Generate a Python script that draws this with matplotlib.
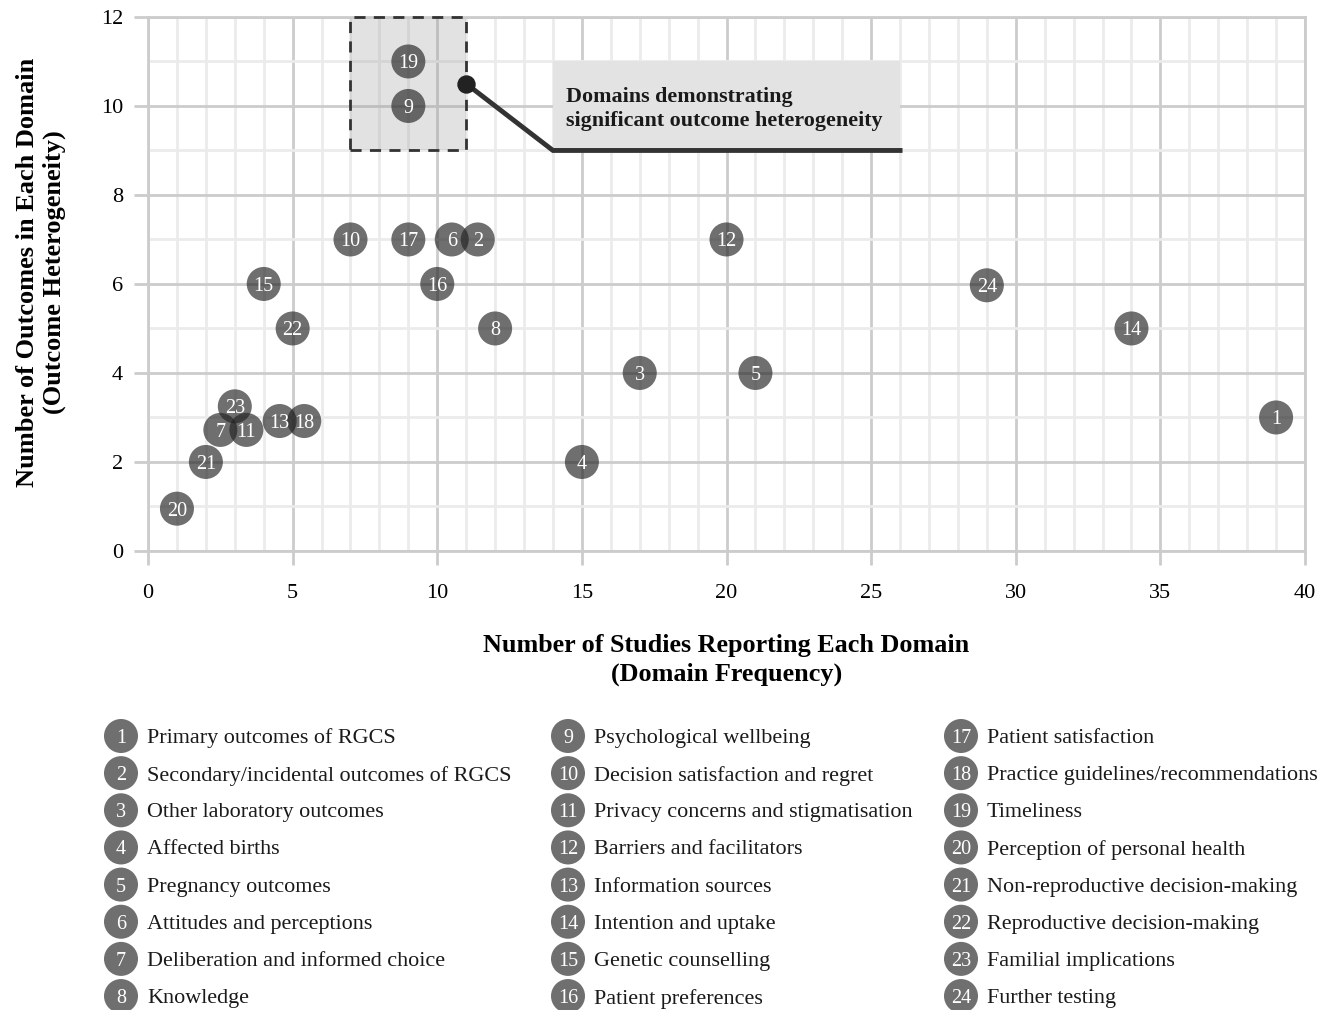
import matplotlib.pyplot as plt
from matplotlib.patches import Rectangle

plt.rcParams['font.family'] = ['Liberation Serif', 'DejaVu Serif']

# domain id, studies (x), outcomes (y) - small offsets where points overlap
ids = list(range(1, 25))
studies = [39, 11.4, 17, 15, 21, 10.5, 2.5, 12, 9, 7, 3.4, 20,
           4.55, 34, 4, 10, 9, 5.4, 9, 1, 2, 5, 3, 29]
outcomes = [3, 7, 4, 2, 4, 7, 2.72, 5, 10, 7, 2.72, 7,
            2.92, 5, 6, 6, 7, 2.92, 11, 0.95, 2, 5, 3.25, 5.97]
names = [
    "Primary outcomes of RGCS", "Secondary/incidental outcomes of RGCS",
    "Other laboratory outcomes", "Affected births", "Pregnancy outcomes",
    "Attitudes and perceptions", "Deliberation and informed choice", "Knowledge",
    "Psychological wellbeing", "Decision satisfaction and regret",
    "Privacy concerns and stigmatisation", "Barriers and facilitators",
    "Information sources", "Intention and uptake", "Genetic counselling",
    "Patient preferences", "Patient satisfaction",
    "Practice guidelines/recommendations", "Timeliness",
    "Perception of personal health", "Non-reproductive decision-making",
    "Reproductive decision-making", "Familial implications", "Further testing",
]

dot_color = '#222222'
dot_alpha = 0.65
dot_size = 600

fig = plt.figure(figsize=(13.36, 10.10), dpi=100)
ax = fig.add_axes([0.1108, 0.4545, 0.866, 0.5287])

ax.set_xlim(0, 40)
ax.set_ylim(0, 12)
ax.set_xticks(range(0, 41, 5))
ax.set_xticks(range(0, 41), minor=True)
ax.set_yticks(range(0, 13, 2))
ax.set_yticks(range(0, 13), minor=True)
ax.grid(which='major', color='#cccccc', lw=2)
ax.grid(which='minor', color='#ebebeb', lw=2)
ax.set_axisbelow(True)
for s in ax.spines.values():
    s.set_color('#cccccc')
    s.set_linewidth(2)
ax.tick_params(which='major', length=10, width=2, color='#cccccc',
               labelsize=16, pad=8)
ax.tick_params(axis='x', which='major', pad=14)
ax.tick_params(which='minor', length=0)

# highlighted region
ax.add_patch(Rectangle((7, 9), 4, 3, facecolor='#a0a0a0', alpha=0.3,
                       edgecolor='none', zorder=2))
ax.add_patch(Rectangle((7, 9), 4, 3, facecolor='none', edgecolor='#333333',
                       lw=2, ls=(0, (4, 3)), zorder=3, clip_on=False))

# callout
ax.add_patch(Rectangle((14, 9), 12, 2, facecolor='#e3e3e3', edgecolor='none',
                       zorder=2))
ax.plot([11, 14, 26], [10.5, 9, 9], color='#333333', lw=3.5, zorder=4,
        solid_joinstyle='miter')
ax.scatter([11], [10.5], s=150, color='#222222', zorder=5)
ax.text(14.45, 9.93, "Domains demonstrating\nsignificant outcome heterogeneity",
        fontsize=15.8, fontweight='bold', color='#1a1a1a', va='center',
        ha='left', linespacing=1.3, zorder=5)

ax.scatter(studies, outcomes, s=dot_size, color=dot_color, alpha=dot_alpha,
           edgecolors='none', zorder=6, clip_on=False)
for i, x, y in zip(ids, studies, outcomes):
    ax.text(x, y, str(i), color='white', fontsize=14.5, ha='center',
            va='center_baseline', zorder=7)

ax.set_xlabel("Number of Studies Reporting Each Domain\n(Domain Frequency)",
              fontsize=18.8, fontweight='bold', labelpad=22, linespacing=1.3)
ax.set_ylabel("Number of Outcomes in Each Domain\n(Outcome Heterogeneity)",
              fontsize=19, fontweight='bold', linespacing=1.2)
ax.yaxis.set_label_coords(-0.071, 0.522)

# legend drawn in pixel coordinates
lg = fig.add_axes([0, 0, 1, 1], zorder=-1)
lg.set_xlim(0, 1336)
lg.set_ylim(1010, 0)
lg.axis('off')
col_x = [121, 568, 961]
for k, (i, name) in enumerate(zip(ids, names)):
    cx = col_x[k // 8]
    cy = 736 + (k % 8) * 37.15
    lg.scatter([cx], [cy], s=dot_size, color=dot_color, alpha=dot_alpha,
               edgecolors='none')
    lg.text(cx, cy, str(i), color='white', fontsize=14.5, ha='center',
            va='center_baseline')
    lg.text(cx + 26, cy, name, fontsize=15.9, ha='left',
            va='center_baseline', color='#1a1a1a')

fig.savefig('out.png', dpi=100)
